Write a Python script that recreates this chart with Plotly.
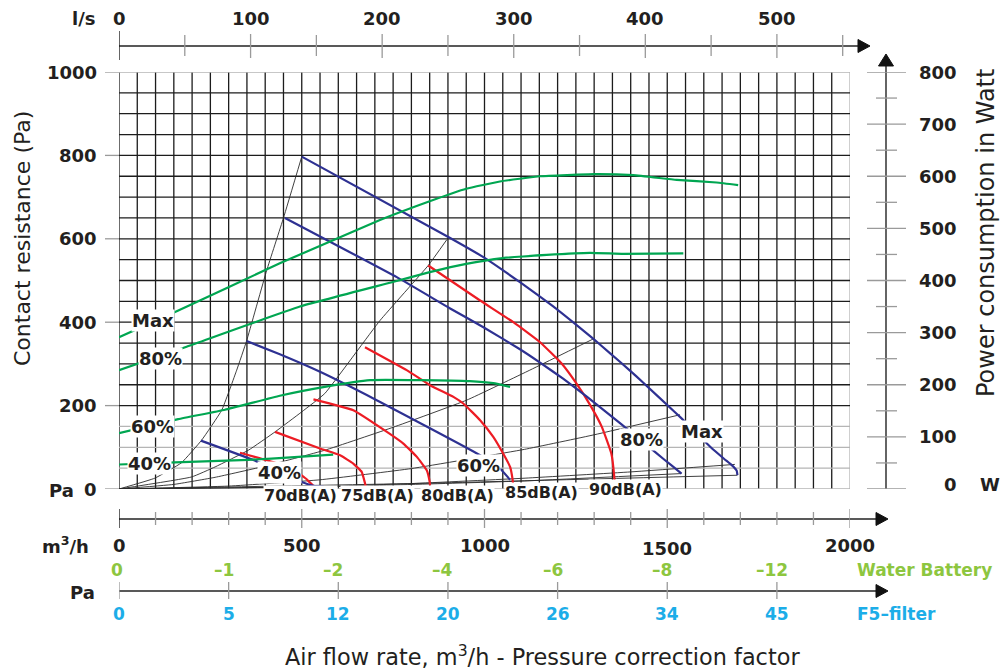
import plotly.graph_objects as go

# ---------------- data ----------------
# Fan curves (blue) : air flow m3/h -> pressure Pa
fan_max_x = [500, 906, 997, 1097, 1188, 1248, 1298, 1343, 1398, 1433, 1519, 1555, 1619, 1656, 1678, 1690, 1692]
fan_max_y = [797, 602, 556, 496, 438, 396, 360, 326, 284, 256, 186, 156, 100, 72, 56, 44, 33]
fan_80_x = [454, 760, 906, 997, 1097, 1152, 1216, 1279, 1375, 1444, 1494, 1521, 1539]
fan_80_y = [650, 508, 433, 388, 335, 303, 264, 222, 155, 105, 69, 50, 37]
fan_60_x = [349, 440, 550, 705, 988, 1047, 1070]
fan_60_y = [355, 323, 281, 213, 81, 45, 22]
fan_40_x = [224, 381, 500, 536, 560]
fan_40_y = [116, 65, 17, 7, 6]

# Power curves (green) : air flow m3/h -> power W (right axis)
pow_max_x = [0, 149, 440, 714, 850, 950, 1042, 1152, 1300, 1407, 1526, 1635, 1694]
pow_max_w = [291, 338, 433, 516, 552, 576, 590, 600, 604, 602, 593, 588, 583]
pow_80_x = [0, 185, 495, 749, 850, 950, 1050, 1170, 1288, 1380, 1544]
pow_80_w = [228, 273, 350, 397, 416, 432, 443, 449, 453, 451, 452]
pow_60_x = [0, 162, 290, 440, 563, 687, 823, 960, 1024, 1070]
pow_60_w = [107, 134, 152, 179, 196, 209, 209, 207, 203, 196]
pow_40_x = [0, 153, 354, 480, 586]
pow_40_w = [47, 51, 56, 61, 66]

# Sound level curves (red)
db70_x = [331, 430, 480, 515, 532]
db70_y = [87, 62, 45, 22, 7]
db75_x = [427, 550, 605, 641, 664, 673, 675]
db75_y = [137, 97, 81, 61, 41, 14, 6]
db80_x = [532, 641, 733, 778, 815, 842, 850, 851]
db80_y = [215, 189, 137, 109, 77, 45, 17, 8]
db85_x = [673, 787, 851, 915, 942, 988, 1024, 1051, 1070, 1077, 1078]
db85_y = [340, 285, 249, 221, 205, 165, 125, 85, 53, 22, 12]
db90_x = [846, 988, 1079, 1152, 1211, 1250, 1290, 1321, 1347, 1355, 1356]
db90_y = [536, 452, 400, 352, 301, 255, 200, 149, 85, 29, 12]

# System curves (thin black)
sys1_x = [0, 98, 171, 226, 281, 322, 349, 404, 450, 500]
sys1_y = [0, 26, 63, 117, 189, 285, 355, 524, 650, 797]
sys2_x = [0, 199, 263, 354, 427, 500, 563, 714, 846, 897]
sys2_y = [0, 29, 53, 93, 137, 185, 229, 404, 536, 598]
sys3_x = [0, 150, 263, 400, 563, 750, 951, 1124, 1298]
sys3_y = [0, 11, 28, 55, 93, 148, 213, 285, 360]
sys4_x = [0, 300, 549, 800, 1109, 1300, 1535]
sys4_y = [0, 7, 22, 49, 95, 130, 178]
sys5_x = [0, 500, 800, 1111, 1400, 1685]
sys5_y = [0, 5, 13, 26, 41, 59]
sys6_x = [0, 850, 1692]
sys6_y = [0, 14, 33]
sys7_x = [0, 600, 1100, 1539]
sys7_y = [0, 6, 19, 37]

# Axes / tick labels
left_ticks = [0, 200, 400, 600, 800, 1000]
right_ticks = [0, 100, 200, 300, 400, 500, 600, 700, 800]
ls_labels = [0, 100, 200, 300, 400, 500]
mh_labels = [0, 500, 1000, 1500, 2000]
corr_flow = [0, 300, 600, 900, 1200, 1500, 1800]
water_battery = ["0", "-1", "-2", "-4", "-6", "-8", "-12"]
f5_filter = ["0", "5", "12", "20", "26", "34", "45"]

# ---------------- styling ----------------
BLUE = "#2e3192"
GREEN = "#00a651"
RED = "#ed1c24"
SYS = "#2a2a2a"
GRID_D = "#1c1c1c"
GRID_L = "#b5b5b5"
TICK = "#9a9a9a"
TXT = "#231f20"
LGREEN = "#8dc63f"
LBLUE = "#1cade8"
FONT = "DejaVu Sans"

PL, PR, PT, PB = 119, 850, 72, 489
W, H = 1001, 672


def fx(p):
    return (p - PL) / (PR - PL)


def fy(p):
    return (PB - p) / (PB - PT)


def px_of_flow(q):
    return PL + q * (PR - PL) / 2000


fig = go.Figure()


def add_line(xs, ys, color, width, yaxis="y"):
    fig.add_trace(go.Scatter(x=xs, y=ys, mode="lines", yaxis=yaxis,
                             line=dict(color=color, width=width, shape="spline", smoothing=0.35),
                             hoverinfo="skip", showlegend=False))


for xs, ys in [(sys1_x, sys1_y), (sys2_x, sys2_y), (sys3_x, sys3_y), (sys4_x, sys4_y),
               (sys5_x, sys5_y), (sys6_x, sys6_y), (sys7_x, sys7_y)]:
    add_line(xs, ys, SYS, 0.9)
for xs, ws in [(pow_max_x, pow_max_w), (pow_80_x, pow_80_w), (pow_60_x, pow_60_w), (pow_40_x, pow_40_w)]:
    add_line(xs, ws, GREEN, 2.2, "y2")
for xs, ys in [(db70_x, db70_y), (db75_x, db75_y), (db80_x, db80_y), (db85_x, db85_y), (db90_x, db90_y)]:
    add_line(xs, ys, RED, 2.2)
for xs, ys in [(fan_max_x, fan_max_y), (fan_80_x, fan_80_y), (fan_60_x, fan_60_y), (fan_40_x, fan_40_y)]:
    add_line(xs, ys, BLUE, 2.2)

shapes = []
# grid
for v in range(0, 2001, 50):
    shapes.append(dict(type="line", xref="x", yref="y", x0=v, x1=v, y0=0, y1=1000, layer="below",
                       line=dict(color=GRID_L if v == 2000 else GRID_D, width=1.3)))
for v in range(0, 1001, 50):
    light = v < 200 or v == 1000
    shapes.append(dict(type="line", xref="x", yref="y", x0=0, x1=2000, y0=v, y1=v, layer="below",
                       line=dict(color=GRID_L if light else GRID_D, width=1.3)))


def hline_px(x0, x1, y, color="#222", width=1.3):
    shapes.append(dict(type="line", xref="paper", yref="paper", x0=fx(x0), x1=fx(x1), y0=fy(y), y1=fy(y),
                       line=dict(color=color, width=width)))


def vtick(xdata, y0, y1, color=TICK, width=1.3):
    shapes.append(dict(type="line", xref="x", yref="paper", x0=xdata, x1=xdata, y0=fy(y0), y1=fy(y1),
                       line=dict(color=color, width=width)))


def tri_right(tip, y):
    path = "M {:.5f},{:.5f} L {:.5f},{:.5f} L {:.5f},{:.5f} Z".format(
        fx(tip - 12), fy(y - 6.5), fx(tip), fy(y), fx(tip - 12), fy(y + 6.5))
    shapes.append(dict(type="path", xref="paper", yref="paper", path=path,
                       fillcolor="#111", line=dict(color="#111", width=1)))


def tri_up(x, tip):
    path = "M {:.5f},{:.5f} L {:.5f},{:.5f} L {:.5f},{:.5f} Z".format(
        fx(x - 7.5), fy(tip + 12), fx(x), fy(tip), fx(x + 7.5), fy(tip + 12))
    shapes.append(dict(type="path", xref="paper", yref="paper", path=path,
                       fillcolor="#111", line=dict(color="#111", width=1)))


# top l/s axis
hline_px(119, 860, 46)
tri_right(870, 46)
for ls in range(0, 551, 50):
    if ls == 0:
        vtick(0, 31, 60, "#111")
    elif ls % 100 == 0:
        vtick(ls * 3.6, 34, 58)
    else:
        vtick(ls * 3.6, 35, 56)

# bottom m3/h axis
hline_px(119, 878, 519)
tri_right(888, 519)
for q in range(0, 2001, 100):
    if q == 0:
        vtick(0, 509, 528, "#111")
    elif q % 500 == 0:
        vtick(q, 509, 528)
    else:
        vtick(q, 512, 525)

# correction (Pa) axis
hline_px(119, 878, 591)
tri_right(888, 591)
for q in corr_flow:
    vtick(q, 582, 599)

# left pressure axis ticks
for v in left_ticks:
    shapes.append(dict(type="line", xref="paper", yref="y", x0=fx(105), x1=fx(119), y0=v, y1=v,
                       line=dict(color=TICK, width=1.3)))

# right power axis
shapes.append(dict(type="line", xref="paper", yref="paper", x0=fx(886), x1=fx(886), y0=fy(489), y1=fy(64),
                   line=dict(color="#111", width=1.3)))
tri_up(886, 54)
for w in range(0, 801, 50):
    x0, x1 = (867, 906) if w % 100 == 0 else (876, 897)
    shapes.append(dict(type="line", xref="paper", yref="y2", x0=fx(x0), x1=fx(x1), y0=w, y1=w,
                       line=dict(color=TICK, width=1.3)))

ann = []


def txt(text, xp, yp, size=18, color=TXT, weight="bold", xanchor="center", bg=None, angle=0):
    d = dict(text=text, xref="paper", yref="paper", x=fx(xp), y=fy(yp), showarrow=False,
             xanchor=xanchor, yanchor="middle", textangle=angle,
             font=dict(family=FONT, size=size, color=color, weight=weight))
    if bg:
        d.update(bgcolor=bg, borderpad=0)
    ann.append(d)


# top labels
txt("l/s", 83, 19)
for ls in ls_labels:
    txt(str(ls), px_of_flow(ls * 3.6), 19)
# left labels
for v in left_ticks:
    ann.append(dict(text=str(v), xref="paper", yref="y", x=fx(99), y=v, showarrow=False,
                    xanchor="right", yanchor="middle",
                    font=dict(family=FONT, size=18, color=TXT, weight="bold")))
txt("Pa", 76, 490, xanchor="right")
# bottom m3/h labels
txt("m<sup>3</sup>/h", 91, 545, xanchor="right")
for q in mh_labels:
    txt(str(q), px_of_flow(q), 548 if q == 1500 else 545)
# water battery / F5 rows
for q, t in zip(corr_flow, water_battery):
    xp = px_of_flow(q) - (5 if t.startswith("-") else 2)
    txt(t.replace("-", "\u2013"), xp, 570, size=17, color=LGREEN)
txt("Water Battery", 855, 570, size=17, color=LGREEN, xanchor="left")
txt("Pa", 97, 592, xanchor="right")
for q, t in zip(corr_flow, f5_filter):
    txt(t, px_of_flow(q), 614, size=17, color=LBLUE)
txt("F5\u2013filter", 855, 614, size=17, color=LBLUE, xanchor="left")

# right axis labels
for w in right_ticks:
    ann.append(dict(text=str(w), xref="paper", yref="y2", x=fx(959), y=w, showarrow=False,
                    xanchor="right", yanchor="middle", yshift=(5 if w == 0 else 0),
                    font=dict(family=FONT, size=18, color=TXT, weight="bold")))
txt("W", 990, 484)

# axis titles
txt("Contact resistance (Pa)", 22, 238, size=22, weight="normal", angle=-90)
txt("Power consumption in Watt", 986, 233, size=24, weight="normal", angle=-90)
txt("Air flow rate, m<sup>3</sup>/h - Pressure correction factor", 542, 655, size=22.4, weight="normal")

# curve labels
for t, xp, yp in [("Max", 153, 320), ("80%", 160, 358), ("60%", 152, 426), ("40%", 149, 463),
                  ("40%", 279, 472), ("60%", 478, 465), ("80%", 641, 439), ("Max", 702, 431)]:
    txt(t, xp, yp, size=18, bg="white")
for t, xp, yp in [("70dB(A)", 300, 496), ("75dB(A)", 377, 496), ("80dB(A)", 457, 496),
                  ("85dB(A)", 541, 492), ("90dB(A)", 625, 489)]:
    txt(t, xp, yp, size=16, bg="white")

fig.update_layout(
    width=W, height=H,
    margin=dict(l=PL, r=W - PR, t=PT, b=H - PB),
    paper_bgcolor="white", plot_bgcolor="white",
    showlegend=False,
    xaxis=dict(range=[0, 2000], showgrid=False, zeroline=False, showticklabels=False,
               ticks="", showline=False, fixedrange=True),
    yaxis=dict(range=[0, 1000], showgrid=False, zeroline=False, showline=False,
               showticklabels=False, ticks="", fixedrange=True),
    yaxis2=dict(range=[0, 800], overlaying="y", side="right", showticklabels=False,
                showgrid=False, zeroline=False, ticks="", showline=False, fixedrange=True),
    shapes=shapes,
    annotations=ann,
)

fig.write_html("out.html", config={"displayModeBar": False},
               post_script="document.body.style.margin='0';document.body.style.padding='0';")
